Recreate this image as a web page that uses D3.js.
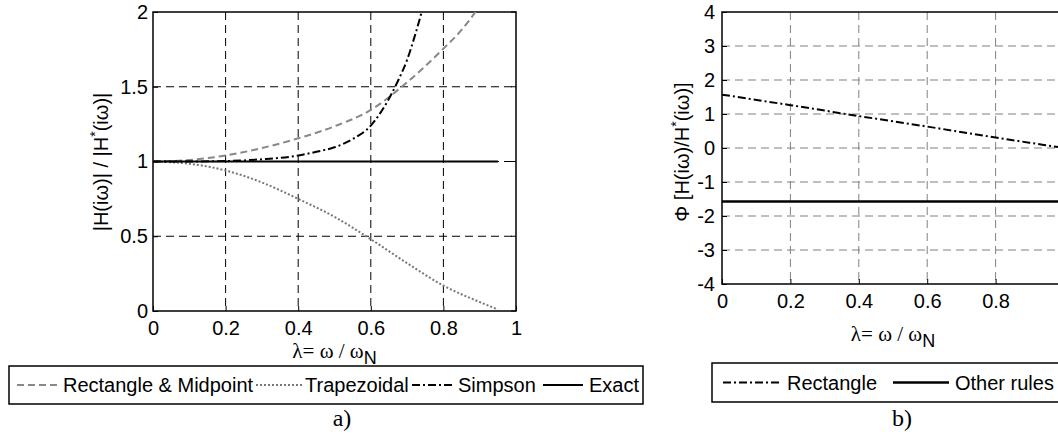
<!DOCTYPE html>
<html>
<head>
<meta charset="utf-8">
<script src="https://cdn.jsdelivr.net/npm/d3@7"></script>
<style>
  body { margin: 0; background: #fff; }
  svg { display: block; }
  text { font-family: Arial, "Liberation Sans", sans-serif; fill: #000; }
  .tick text { font-size: 20px; }
  .serif { font-family: "Times New Roman", "Liberation Serif", serif; }
</style>
</head>
<body>
<svg id="chart" width="1058" height="443"></svg>
<script>
// eixo comum
const xTicks = [0, 0.2, 0.4, 0.6, 0.8, 1];
const yTicksA = [0, 0.5, 1, 1.5, 2];
const yTicksB = [-4, -3, -2, -1, 0, 1, 2, 3, 4];

// painel a) razão de amplitude
const rectLambda = [0, 0.1, 0.2, 0.3, 0.4, 0.5, 0.6, 0.7, 0.8, 0.85, 0.9];
const rectAmp    = [1, 1.01, 1.04, 1.09, 1.155, 1.235, 1.345, 1.53, 1.755, 1.88, 2.04];
const trapLambda = [0, 0.1, 0.2, 0.3, 0.4, 0.5, 0.6, 0.7, 0.8, 0.9, 0.95];
const trapAmp    = [1, 0.985, 0.94, 0.86, 0.75, 0.63, 0.48, 0.32, 0.17, 0.06, 0.01];
const simpLambda = [0, 0.1, 0.2, 0.3, 0.4, 0.45, 0.5, 0.55, 0.6, 0.625, 0.65, 0.675, 0.7, 0.72, 0.74, 0.76];
const simpAmp    = [1, 1, 1.003, 1.015, 1.04, 1.065, 1.095, 1.15, 1.24, 1.32, 1.42, 1.54, 1.68, 1.83, 2.0, 2.2];
const exactLambda = [0, 0.95];
const exactAmp    = [1, 1];

// painel b) fase
const phaseRectLambda = [0, 0.2, 0.4, 0.6, 0.8, 1];
const phaseRect       = [1.57, 1.26, 0.94, 0.63, 0.31, 0];
const phaseOtherLambda = [0, 1];
const phaseOther       = [-1.57, -1.57];

const svg = d3.select("#chart");

function zip(xs, ys) { return xs.map((x, i) => [x, ys[i]]); }

function panel(opt) {
    const x = d3.scaleLinear().domain([0, 1]).range([opt.x0, opt.x1]);
    const y = d3.scaleLinear().domain(opt.yDomain).range([opt.yBot, opt.yTop]);
    const g = svg.append("g");

    // grade tracejada
    const grid = g.append("g").attr("stroke", opt.gridColor).attr("stroke-width", 1)
        .attr("stroke-dasharray", "8,5");
    xTicks.slice(1, -1).forEach(t => {
        grid.append("line").attr("x1", x(t)).attr("x2", x(t)).attr("y1", opt.yTop).attr("y2", opt.yBot);
    });
    opt.yTicks.slice(1, -1).forEach(t => {
        grid.append("line").attr("x1", opt.x0).attr("x2", opt.x1).attr("y1", y(t)).attr("y2", y(t));
    });

    // eixos
    const ax = g.append("g").attr("transform", `translate(0,${opt.yBot})`)
        .call(d3.axisBottom(x).tickValues(xTicks).tickSize(-5).tickPadding(10).tickFormat(d => String(d)));
    const ay = g.append("g").attr("transform", `translate(${opt.x0},0)`)
        .call(d3.axisLeft(y).tickValues(opt.yTicks).tickSize(-5).tickPadding(opt.yPad).tickFormat(d => String(d)));
    [ax, ay].forEach(a => {
        a.select(".domain").remove();
        a.selectAll(".tick line").attr("stroke", "#000");
        a.selectAll(".tick text").attr("font-family", null).attr("font-size", null);
    });
    // ticks do lado direito
    opt.yTicks.forEach(t => {
        g.append("line").attr("x1", opt.x1).attr("x2", opt.x1 - 5).attr("y1", y(t)).attr("y2", y(t)).attr("stroke", "#000");
    });

    g.append("rect").attr("x", opt.x0).attr("y", opt.yTop)
        .attr("width", opt.x1 - opt.x0).attr("height", opt.yBot - opt.yTop)
        .attr("fill", "none").attr("stroke", "#000").attr("stroke-width", 1.5);

    // curvas
    const clipId = "clip" + opt.id;
    svg.append("clipPath").attr("id", clipId).append("rect")
        .attr("x", opt.x0).attr("y", opt.yTop).attr("width", opt.x1 - opt.x0).attr("height", opt.yBot - opt.yTop);
    const line = d3.line().x(d => x(d[0])).y(d => y(d[1])).curve(d3.curveMonotoneX);
    const cg = g.append("g").attr("clip-path", `url(#${clipId})`);
    opt.series.forEach(s => {
        cg.append("path").datum(zip(s.xs, s.ys)).attr("d", line)
            .attr("fill", "none").attr("stroke", s.color).attr("stroke-width", s.width)
            .attr("stroke-dasharray", s.dash);
    });

    // rótulos
    const xl = g.append("text").attr("x", (opt.x0 + opt.x1) / 2).attr("y", opt.xLabelY)
        .attr("text-anchor", "middle").attr("font-size", 21);
    xl.append("tspan").attr("class", "serif").text("λ= ω / ω");
    xl.append("tspan").attr("dy", 6).attr("font-size", 18).text("N");

    const yl = g.append("text").attr("transform", `translate(${opt.yLabelX},${opt.yLabelMid}) rotate(-90)`)
        .attr("text-anchor", "middle").attr("font-size", 20);
    opt.yLabel.forEach(p => {
        const ts = yl.append("tspan").text(p.t);
        if (p.sup) ts.attr("dy", -8).attr("font-size", 14);
        if (p.down) ts.attr("dy", 8);
    });
    return { x, y };
}

panel({
    id: "a", x0: 153, x1: 516, yTop: 12, yBot: 311, yDomain: [0, 2], yTicks: yTicksA, yPad: 5,
    gridColor: "#000", xLabelY: 358, yLabelX: 108, yLabelMid: 162,
    yLabel: [{ t: "|H(iω)| / |H" }, { t: "*", sup: true }, { t: "(iω)|", down: true }],
    series: [
        { xs: rectLambda, ys: rectAmp, color: "#888", width: 2, dash: "7,4" },
        { xs: trapLambda, ys: trapAmp, color: "#777", width: 2, dash: "2,2" },
        { xs: simpLambda, ys: simpAmp, color: "#000", width: 2, dash: "8,3,2,3" },
        { xs: exactLambda, ys: exactAmp, color: "#000", width: 2, dash: null }
    ]
});

panel({
    id: "b", x0: 722, x1: 1064, yTop: 12, yBot: 284, yDomain: [-4, 4], yTicks: yTicksB, yPad: 7,
    gridColor: "#808080", xLabelY: 341, yLabelX: 689, yLabelMid: 152,
    yLabel: [{ t: "Φ [H(iω)/H" }, { t: "*", sup: true }, { t: "(iω)]", down: true }],
    series: [
        { xs: phaseRectLambda, ys: phaseRect, color: "#000", width: 2, dash: "8,3,2,3" },
        { xs: phaseOtherLambda, ys: phaseOther, color: "#000", width: 2.5, dash: null }
    ]
});

// legendas
function legend(box, items) {
    const g = svg.append("g");
    g.append("rect").attr("x", box.x).attr("y", box.y).attr("width", box.w).attr("height", box.h)
        .attr("fill", "#fff").attr("stroke", "#000").attr("stroke-width", 1.5);
    const cy = box.y + box.h / 2;
    items.forEach(it => {
        g.append("line").attr("x1", it.l0).attr("x2", it.l1).attr("y1", cy).attr("y2", cy)
            .attr("stroke", it.color).attr("stroke-width", it.width).attr("stroke-dasharray", it.dash);
        g.append("text").attr("x", it.tx).attr("y", cy).attr("dy", "0.36em")
            .attr("font-size", 20).text(it.label);
    });
}

legend({ x: 9, y: 366, w: 634, h: 38 }, [
    { l0: 17, l1: 57, tx: 63, label: "Rectangle & Midpoint", color: "#888", width: 2, dash: "7,4" },
    { l0: 256, l1: 302, tx: 305, label: "Trapezoidal", color: "#777", width: 2, dash: "2,2" },
    { l0: 412, l1: 455, tx: 458, label: "Simpson", color: "#000", width: 2, dash: "8,3,2,3" },
    { l0: 543, l1: 583, tx: 589, label: "Exact", color: "#000", width: 2, dash: null }
]);

legend({ x: 712, y: 363, w: 360, h: 39 }, [
    { l0: 723, l1: 782, tx: 787, label: "Rectangle", color: "#000", width: 2, dash: "8,3,2,3" },
    { l0: 893, l1: 949, tx: 955, label: "Other rules", color: "#000", width: 2.5, dash: null }
]);

svg.append("text").attr("class", "serif").attr("x", 342).attr("y", 426)
    .attr("text-anchor", "middle").attr("font-size", 24).text("a)");
svg.append("text").attr("class", "serif").attr("x", 902).attr("y", 426)
    .attr("text-anchor", "middle").attr("font-size", 24).text("b)");
</script>
</body>
</html>
